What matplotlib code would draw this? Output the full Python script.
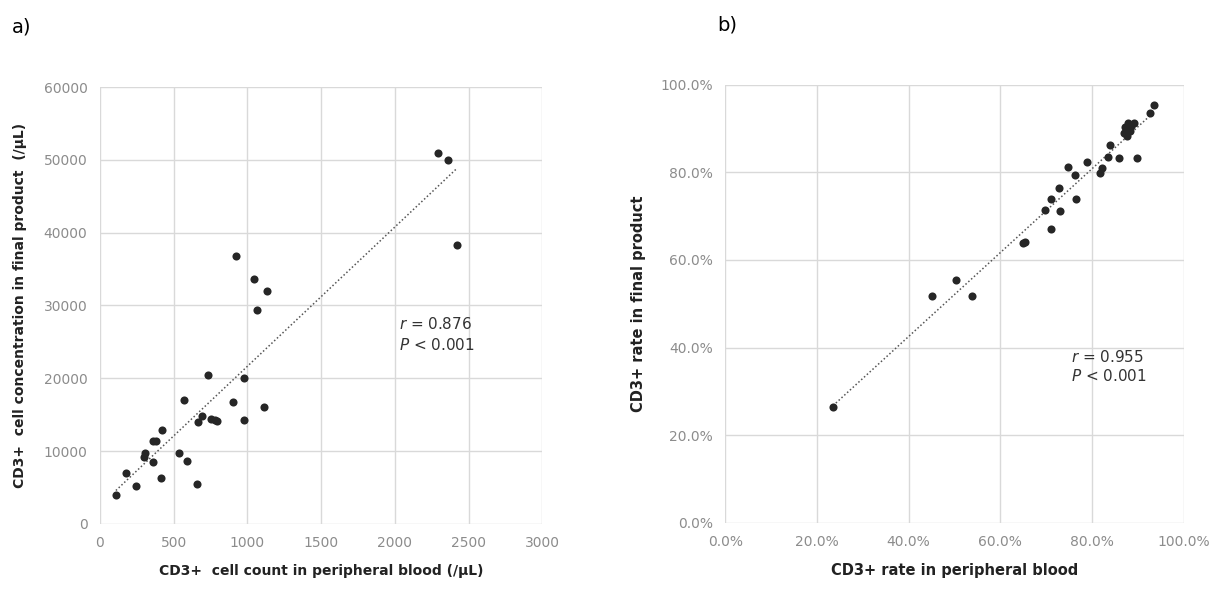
import numpy as np
import matplotlib
matplotlib.use('Agg')
import matplotlib.pyplot as plt
from matplotlib.ticker import PercentFormatter

# panel a: CD3+ count in peripheral blood vs concentration in final product (/uL)
pb_count = [108, 178, 244, 297, 302, 357, 357, 383, 415, 423, 533, 572, 590, 656,
            664, 690, 735, 751, 777, 795, 903, 919, 974, 979, 1045, 1066, 1110,
            1131, 2291, 2357, 2423]
fp_conc = [3950, 7050, 5230, 9230, 9680, 8545, 11360, 11450, 6360, 12950, 9680,
           17050, 8640, 5450, 14000, 14860, 20450, 14450, 14300, 14200, 16800,
           36770, 14300, 20000, 33600, 29400, 16100, 32000, 50900, 50000, 38270]

# panel b: CD3+ rate (%) in peripheral blood vs final product
pb_rate = [23.5, 45.1, 50.4, 53.8, 65.0, 65.4, 71.1, 69.8, 73.0, 71.1, 76.5, 72.9,
           76.3, 74.8, 78.9, 82.2, 81.8, 83.4, 86.0, 89.9, 84.0, 87.0, 87.3, 87.8,
           88.5, 89.2, 87.6, 88.3, 92.6, 93.5]
fp_rate = [26.4, 51.7, 55.4, 51.7, 63.8, 64.0, 67.0, 71.4, 71.2, 73.8, 74.0, 76.3,
           79.4, 81.3, 82.4, 81.0, 79.9, 83.5, 83.3, 83.2, 86.3, 89.0, 90.3, 91.2,
           90.5, 91.3, 88.2, 89.5, 93.5, 95.4]

stats_a = ['$r$ = 0.876', '$P$ < 0.001']
stats_b = ['$r$ = 0.955', '$P$ < 0.001']

GRID = '#d9d9d9'
TICK = '#8c8c8c'
DOT = '#262626'

plt.rcParams['font.family'] = ['DejaVu Sans']
plt.rcParams['mathtext.fontset'] = 'dejavusans'

fig = plt.figure(figsize=(12.19, 5.92), dpi=100)
ax1 = fig.add_axes([0.082, 0.115, 0.363, 0.738])
ax2 = fig.add_axes([0.595, 0.117, 0.376, 0.740])


def style(ax):
    ax.grid(True, color=GRID, lw=1)
    ax.set_axisbelow(True)
    for s in ax.spines.values():
        s.set_visible(False)
    ax.tick_params(length=0, colors=TICK, labelsize=10, pad=9)
    for lab in ax.get_xticklabels() + ax.get_yticklabels():
        lab.set_color(TICK)


def scatter_fit(ax, x, y):
    x = np.array(x, dtype=float)
    y = np.array(y, dtype=float)
    ax.scatter(x, y, s=34, color=DOT, zorder=3, linewidths=0)
    m, b = np.polyfit(x, y, 1)
    xs = np.array([x.min(), x.max()])
    ax.plot(xs, m * xs + b, ls=(0, (1, 1.5)), color='#555555', lw=1.1, zorder=2)


# a)
scatter_fit(ax1, pb_count, fp_conc)
ax1.set_xlim(0, 3000)
ax1.set_ylim(0, 60000)
ax1.set_xticks(np.arange(0, 3001, 500))
ax1.set_yticks(np.arange(0, 60001, 10000))
style(ax1)
ax1.set_xlabel('CD3+  cell count in peripheral blood (/µL)', fontsize=10,
               fontweight='bold', color='#222222', labelpad=10)
ax1.set_ylabel('CD3+  cell concentration in final product  (/µL)', fontsize=10,
               fontweight='bold', color='#222222', labelpad=12)
ax1.text(2030, 26800, stats_a[0], fontsize=11, color='#333333')
ax1.text(2030, 23900, stats_a[1], fontsize=11, color='#333333')

# b)
scatter_fit(ax2, pb_rate, fp_rate)
ax2.set_xlim(0, 100)
ax2.set_ylim(0, 100)
ax2.set_xticks(np.arange(0, 101, 20))
ax2.set_yticks(np.arange(0, 101, 20))
ax2.xaxis.set_major_formatter(PercentFormatter(100, decimals=1))
ax2.yaxis.set_major_formatter(PercentFormatter(100, decimals=1))
style(ax2)
ax2.set_xlabel('CD3+ rate in peripheral blood', fontsize=10.5,
               fontweight='bold', color='#222222', labelpad=10)
ax2.set_ylabel('CD3+ rate in final product', fontsize=10.5,
               fontweight='bold', color='#222222', labelpad=10)
ax2.text(75.5, 36.8, stats_b[0], fontsize=11, color='#333333')
ax2.text(75.5, 32.3, stats_b[1], fontsize=11, color='#333333')

fig.text(0.010, 0.955, 'a)', fontsize=14, va='center')
fig.text(0.588, 0.958, 'b)', fontsize=14, va='center')

fig.savefig('out.png', dpi=100)
